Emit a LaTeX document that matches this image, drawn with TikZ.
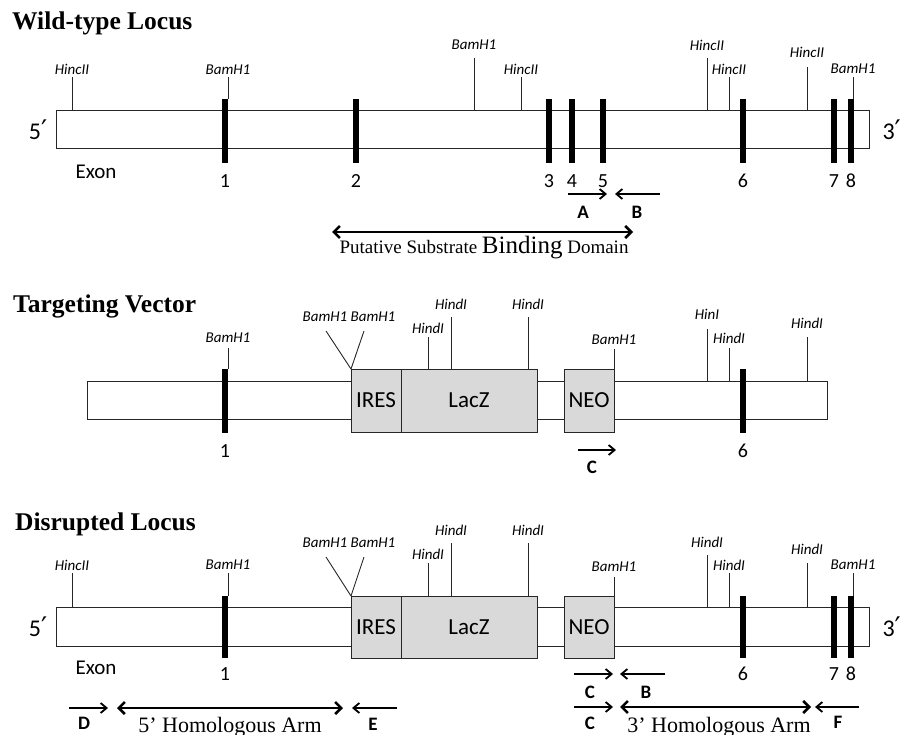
\documentclass[tikz,border=0pt]{standalone}
\usepackage{fontspec}
\setmainfont{Liberation Serif}
\newfontfamily\calib{Carlito}
\newfontfamily\primefont{DejaVu Sans}
\usepackage{tikz}
\usetikzlibrary{arrows.meta, positioning}

% fill colour of the inserted cassette
\definecolor{cassette}{RGB}{217,217,217}

% prime for the strand ends (Carlito has none)
\newcommand{\pr}{{\primefont\fontsize{27}{27}\selectfont ′}}

\tikzset{
  bar/.style={draw=black!85, line width=1pt, fill=white},
  insert/.style={draw=black!85, line width=1pt, fill=cassette},
  exon/.style={line width=6.5pt, black},
  cut/.style={line width=0.9pt, black!85},
  enz/.style={font=\calib\itshape\fontsize{15}{15}\selectfont, inner sep=0pt},
  num/.style={font=\calib\fontsize{20}{20}\selectfont, inner sep=0pt},
  endlbl/.style={font=\calib\fontsize{24}{24}\selectfont, inner sep=0pt},
  boxtext/.style={font=\calib\fontsize{23}{23}\selectfont, inner sep=0pt},
  primer/.style={line width=1.8pt, -{Straight Barb[length=6pt,width=10pt]}},
  primerlbl/.style={font=\calib\bfseries\fontsize{19}{19}\selectfont, inner sep=0pt},
  arm/.style={line width=2.6pt,
    {Straight Barb[length=6pt,width=12pt]}-{Straight Barb[length=6pt,width=12pt]}},
  armlbl/.style={font=\fontsize{22}{22}\selectfont, inner sep=0pt, anchor=base},
  title/.style={font=\bfseries\fontsize{25.5}{25.5}\selectfont, inner sep=0pt, anchor=base west},
}

% restriction site: name, x, label y, line top, line bottom, enzyme
\newcommand{\site}[6]{%
  \coordinate (#1-cut) at (#2,#5);
  \node[enz] (#1) at (#2,#3) {#6};
  \draw[cut] (#1-cut) -- (#2,#4);
}

\begin{document}
\begin{tikzpicture}[x=1pt, y=-1pt]
  \useasboundingbox (0,0) rectangle (901,735);

  %%%%%%%%%%%%%%%% Wild-type locus
  \node[title] (wt-title) at (12,29.5) {Wild-type Locus};

  % Draw locus
  \draw[bar] (56,111) rectangle (869,149);
  \node[endlbl] (wt-5) at (38,130) {5\pr};
  \node[endlbl, anchor=east] (wt-3) at (901,130) {3\pr};
  \node[num, font=\calib\fontsize{21}{21}\selectfont] (wt-exon) at (96,172) {Exon};

  % Exons
  \foreach \x/\n in {225/1, 356/2, 549/3, 572/4, 603/5, 743/6, 834/7, 851/8} {
    \draw[exon] (\x,99) -- (\x,163);
    \node[num] (wt-e\n) at (\x,181) {\n};
  }

  % Restriction sites
  \site{wt-s1}{72}{69.5}{77}{111}{HincII}
  \site{wt-s2}{228}{70}{77}{99}{BamH1}
  \site{wt-s3}{474}{45}{58}{111}{BamH1}
  \site{wt-s4}{521}{69}{77}{111}{HincII}
  \site{wt-s5}{707}{45}{58}{111}{HincII}
  \site{wt-s6}{729}{69}{77}{111}{HincII}
  \site{wt-s7}{807}{52}{67}{111}{HincII}
  \site{wt-s8}{853}{69}{77}{99}{BamH1}

  % Primers A and B
  \coordinate (pA1) at (568,194);
  \coordinate (pA2) at (607,194);
  \coordinate (pB1) at (660,194);
  \coordinate (pB2) at (615,194);
  \draw[primer] (pA1) -- (pA2);
  \draw[primer] (pB1) -- (pB2);
  \node[primerlbl] (lblA) at (583,212) {A};
  \node[primerlbl] (lblB) at (637,212) {B};

  % Substrate binding domain
  \coordinate (dom1) at (332,232);
  \coordinate (dom2) at (633,232);
  \draw[arm] (dom1) -- (dom2);
  \node[inner sep=0pt, anchor=base, font=\fontsize{19}{19}\selectfont] (domain) at (484,253)
    {Putative Substrate {\fontsize{25}{25}\selectfont Binding} Domain};

  %%%%%%%%%%%%%%%% Targeting vector
  \node[title] (tv-title) at (13,312) {Targeting Vector};

  % Draw vector
  \draw[bar] (87,381) rectangle (827,419);
  \draw[insert] (351,369) rectangle (401,432);
  \draw[insert] (401,369) rectangle (537,432);
  \draw[insert] (564,369) rectangle (614,432);
  \node[boxtext] (tv-ires) at (376,400.5) {IRES};
  \node[boxtext] (tv-lacz) at (469,400.5) {LacZ};
  \node[boxtext] (tv-neo) at (589,400.5) {NEO};

  % Exons
  \foreach \x/\n in {225/1, 743/6} {
    \draw[exon] (\x,369) -- (\x,433);
    \node[num] (tv-e\n) at (\x,451) {\n};
  }

  % Restriction sites
  \site{tv-s1}{228}{338}{348}{369}{BamH1}
  \coordinate (tv-ires-corner) at (351,369);
  \node[enz] (tv-b1) at (325,317) {BamH1};
  \node[enz] (tv-b2) at (373,317) {BamH1};
  \draw[cut] (tv-ires-corner) -- (326,331);
  \draw[cut] (tv-ires-corner) -- (364,331);
  \site{tv-s2}{428}{328}{337}{369}{HindI}
  \site{tv-s3}{451}{304.5}{317}{369}{HindI}
  \site{tv-s4}{528}{304.5}{317}{369}{HindI}
  \site{tv-s5}{614}{340}{349}{369}{BamH1}
  \site{tv-s6}{707}{314}{329}{381}{HinI}
  \site{tv-s7}{729}{338}{348}{381}{HindI}
  \site{tv-s8}{807}{323}{337}{381}{HindI}

  % Primer C
  \coordinate (tvC1) at (578,450);
  \coordinate (tvC2) at (616,450);
  \draw[primer] (tvC1) -- (tvC2);
  \node[primerlbl] (tv-lblC) at (592,467) {C};

  %%%%%%%%%%%%%%%% Disrupted locus
  \node[title] (dl-title) at (15,530) {Disrupted Locus};

  % Draw locus
  \draw[bar] (56,607) rectangle (869,646);
  \draw[insert] (351,596) rectangle (401,658);
  \draw[insert] (401,596) rectangle (537,658);
  \draw[insert] (564,596) rectangle (614,658);
  \node[boxtext] (dl-ires) at (376,627) {IRES};
  \node[boxtext] (dl-lacz) at (469,627) {LacZ};
  \node[boxtext] (dl-neo) at (589,627) {NEO};
  \node[endlbl] (dl-5) at (38,627) {5\pr};
  \node[endlbl, anchor=east] (dl-3) at (901,627) {3\pr};
  \node[num, font=\calib\fontsize{21}{21}\selectfont] (dl-exon) at (96,668) {Exon};

  % Exons
  \foreach \x/\n in {225/1, 743/6, 834/7, 851/8} {
    \draw[exon] (\x,596) -- (\x,658);
    \node[num] (dl-e\n) at (\x,674) {\n};
  }

  % Restriction sites
  \site{dl-s1}{72}{565}{573}{607}{HincII}
  \site{dl-s2}{228}{565}{573}{596}{BamH1}
  \coordinate (dl-ires-corner) at (351,596);
  \node[enz] (dl-b1) at (325,543) {BamH1};
  \node[enz] (dl-b2) at (373,543) {BamH1};
  \draw[cut] (dl-ires-corner) -- (326,557);
  \draw[cut] (dl-ires-corner) -- (364,557);
  \site{dl-s3}{428}{554}{563}{596}{HindI}
  \site{dl-s4}{451}{530}{543}{596}{HindI}
  \site{dl-s5}{528}{530}{543}{596}{HindI}
  \site{dl-s6}{614}{567}{577}{596}{BamH1}
  \site{dl-s7}{707}{542}{555}{607}{HindI}
  \site{dl-s8}{729}{565}{573}{607}{HindI}
  \site{dl-s9}{807}{549}{563}{607}{HindI}
  \site{dl-s10}{853}{565}{573}{596}{BamH1}

  % Primers C and B
  \coordinate (dlC1) at (574,674);
  \coordinate (dlC2) at (613,674);
  \coordinate (dlB1) at (665,674);
  \coordinate (dlB2) at (620,674);
  \draw[primer] (dlC1) -- (dlC2);
  \draw[primer] (dlB1) -- (dlB2);
  \node[primerlbl] (dl-lblC) at (590,692) {C};
  \node[primerlbl] (dl-lblB) at (646,692) {B};

  % 5' homologous arm with primers D and E
  \coordinate (pD1) at (69,708);
  \coordinate (pD2) at (108,708);
  \coordinate (pE1) at (397,708);
  \coordinate (pE2) at (352,708);
  \coordinate (arm5a) at (117,708);
  \coordinate (arm5b) at (343,708);
  \draw[primer] (pD1) -- (pD2);
  \draw[primer] (pE1) -- (pE2);
  \draw[arm] (arm5a) -- (arm5b);
  \node[primerlbl] (lblD) at (84,723) {D};
  \node[primerlbl] (lblE) at (373,724) {E};
  \node[armlbl] (arm5) at (230,732) {5’ Homologous Arm};

  % 3' homologous arm with primers C and F
  \coordinate (pC1) at (574,707);
  \coordinate (pC2) at (613,707);
  \coordinate (pF1) at (859,707);
  \coordinate (pF2) at (815,707);
  \coordinate (arm3a) at (620,707);
  \coordinate (arm3b) at (811,707);
  \draw[primer] (pC1) -- (pC2);
  \draw[primer] (pF1) -- (pF2);
  \draw[arm] (arm3a) -- (arm3b);
  \node[primerlbl] (dl-lblC2) at (590,723) {C};
  \node[primerlbl] (lblF) at (838,722) {F};
  \node[armlbl] (arm3) at (719,732) {3’ Homologous Arm};
\end{tikzpicture}
\end{document}
